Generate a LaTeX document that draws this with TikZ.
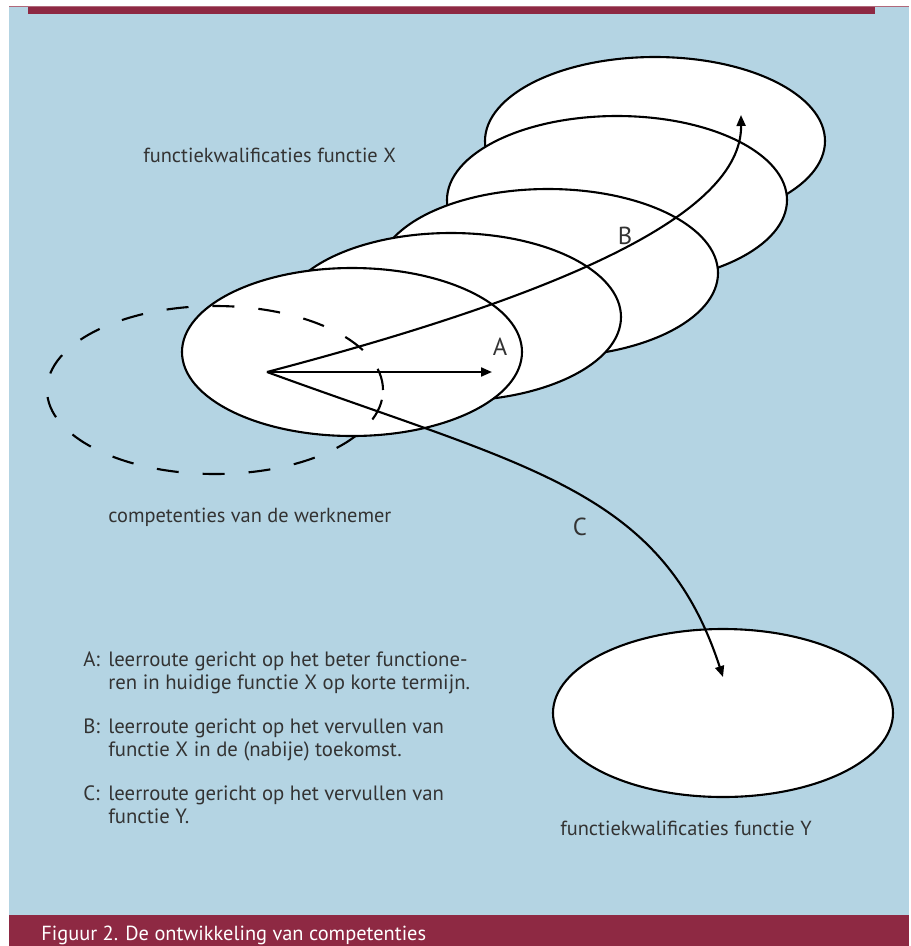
\documentclass[tikz,border=0pt]{standalone}
\usepackage{fontspec}
\setmainfont{PT Sans}
\usetikzlibrary{arrows.meta, positioning, shapes.geometric}
\definecolor{figblue}{HTML}{B4D4E3}
\definecolor{figred}{HTML}{8E2943}
\definecolor{figtext}{HTML}{333333}

\begin{document}
\begin{tikzpicture}[x=0.2mm, y=-0.2mm,
  blob/.style={ellipse, draw=black, line width=1.2pt, fill=white,
    minimum width=68mm, minimum height=33.6mm, inner sep=0pt},
  ghost/.style={ellipse, draw=black, line width=1.2pt,
    dash pattern=on 4.4mm off 4.8mm,
    minimum width=67.2mm, minimum height=33.6mm, inner sep=0pt},
  lbl/.style={font=\fontsize{11.6}{14}\selectfont, text=figtext,
    inner sep=0pt, anchor=base west},
  leg/.style={lbl, font=\fontsize{11.8}{14}\selectfont},
  route/.style={font=\fontsize{14}{16}\selectfont, text=figtext, inner sep=0pt},
  ar/.style={-{Triangle[length=2.2mm, width=1.8mm]}, line width=1.2pt}
]
  \useasboundingbox (0,0) rectangle (911,946);

  % panel
  \fill[figblue] (9,6) rectangle (909,915);
  \fill[figred] (9,915) rectangle (909,946);
  \fill[figred] (28,6) rectangle (875,14);
  \draw[figred!70, line width=0.2mm] (9,6.5) -- (909,6.5);

  % functie X, back to front
  \foreach \n/\cx/\cy in {5/655/141, 4/617/200, 3/548/273, 2/451/317, 1/352/352}{
    \node[blob] (fx\n) at (\cx,\cy) {};
  }
  \node[ghost] (wn) at (215,390) {};
  \node[blob] (fy) at (723,713) {};

  \coordinate (o) at (267,372);
  \coordinate (ta) at (492,372);
  \coordinate (tb) at (741,115);
  \coordinate (tc) at (723,677);
  \draw[ar] (o) -- (ta);
  \draw[ar] (o) .. controls (560,295) and (742,215) .. (tb);
  \draw[ar] (o) .. controls (530,468) and (662,490) .. (tc);

  \node[route] (ra) at (500,347) {A};
  \node[route] (rb) at (625,236) {B};
  \node[route] (rc) at (580,527) {C};

  \node[lbl] (kwalx) at (143,162) {functiekwalificaties functie X};
  \node[lbl] (wnemer) at (108,522) {competenties van de werknemer};
  \node[lbl] (kwaly) at (560,835) {functiekwalificaties functie Y};

  % legend
  \foreach \k/\yy/\la/\lb in {
      A/666/{leerroute gericht op het beter functione-}/{ren in huidige functie X op korte termijn.},
      B/733/{leerroute gericht op het vervullen van}/{functie X in de (nabije) toekomst.},
      C/800/{leerroute gericht op het vervullen van}/{functie Y.}}{
    \node[leg] (key\k) at (83,\yy) {\k:};
    \node[leg] (key\k a) at (108,\yy) {\la};
    \node[leg] (key\k b) at (108,\yy+23) {\lb};
  }

  \node[lbl, text=white] (cap) at (41,940) {Figuur 2. De ontwikkeling van competenties};
\end{tikzpicture}
\end{document}
